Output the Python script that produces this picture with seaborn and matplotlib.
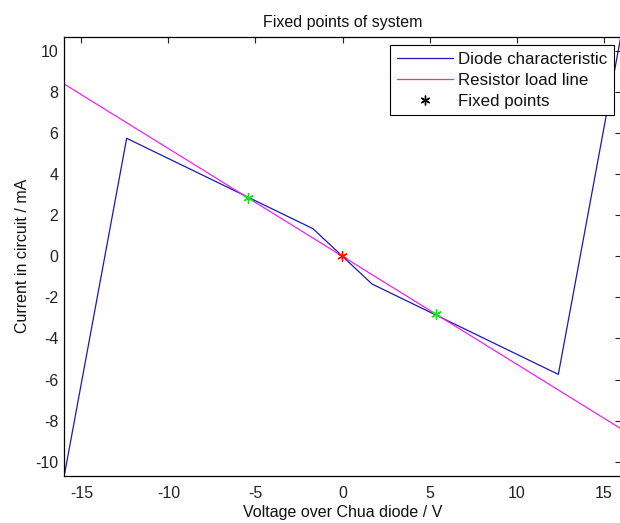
import matplotlib
matplotlib.use("Agg")
import matplotlib.pyplot as plt
import seaborn as sns
import pandas as pd
from matplotlib.lines import Line2D

# Diode characteristic (piecewise linear) breakpoints
diode_v = [-16.0, -12.4, -1.7, 1.7, 12.4, 16.0]
diode_i = [-10.75, 5.75, 1.35, -1.35, -5.75, 10.75]

# Resistor load line
load_v = [-16.0, 16.0]
load_i = [8.4, -8.4]

# Fixed points
fp_v = [-5.4, 0.0, 5.4]
fp_i = [2.83, 0.0, -2.83]
fp_kind = ["outer", "origin", "outer"]

xticks = [-15, -10, -5, 0, 5, 10, 15]
yticks = [-10, -8, -6, -4, -2, 0, 2, 4, 6, 8, 10]

sns.set_style("white")
plt.rcParams['font.family'] = ['Liberation Sans', 'DejaVu Sans']
plt.rcParams['axes.unicode_minus'] = False
FS = 11.5

fig = plt.figure(figsize=(6.2, 5.23), dpi=100)
ax = fig.add_axes([64 / 620, 1 - 476 / 523, (621 - 64) / 620, (476 - 36.7) / 523])

d1 = pd.DataFrame({"v": diode_v, "i": diode_i})
d2 = pd.DataFrame({"v": load_v, "i": load_i})
d3 = pd.DataFrame({"v": fp_v, "i": fp_i, "k": fp_kind})

blue = "#1a1ab0"
mag = "#ee22ee"
sns.lineplot(data=d1, x="v", y="i", ax=ax, color=blue, lw=0.9, sort=False, estimator=None)
sns.lineplot(data=d2, x="v", y="i", ax=ax, color=mag, lw=0.9, sort=False, estimator=None)
sns.scatterplot(data=d3, x="v", y="i", hue="k", palette={"outer": "#22dd22", "origin": "#ff1111"},
                marker=(6, 2, 0), s=45, linewidth=1.0, ax=ax, legend=False, zorder=5)

ax.set_xlim(-16, 16)
ax.set_ylim(-10.7, 10.7)
ax.set_xticks(xticks)
ax.set_yticks(yticks)
ax.tick_params(direction="in", top=True, right=True, length=4.3, width=0.8, labelsize=FS,
               colors="#222222", pad=4)
ax.tick_params(axis="x", pad=7)
for s in ax.spines.values():
    s.set_linewidth(0.9)
    s.set_color("black")

ax.set_title("Fixed points of system", fontsize=FS, pad=7, color="#111111")
ax.set_xlabel("Voltage over Chua diode / V", fontsize=FS, labelpad=3, color="#111111")
ax.set_ylabel("Current in circuit / mA", fontsize=FS, labelpad=4, color="#111111")

handles = [
    Line2D([], [], color=blue, lw=0.9),
    Line2D([], [], color=mag, lw=0.9),
    Line2D([], [], color="black", lw=0, marker=(6, 2, 0), markersize=7, markeredgewidth=1.0),
]
leg = ax.legend(handles, ["Diode characteristic", "Resistor load line", "Fixed points"],
                loc="upper right", bbox_to_anchor=(0.987, 0.981), fancybox=False, framealpha=1,
                edgecolor="black", fontsize=12.2, handlelength=3.3, handletextpad=0.3,
                borderpad=0.4, labelspacing=0.35, borderaxespad=0)
leg.get_frame().set_linewidth(0.8)
for t in leg.get_texts():
    t.set_color("#111111")

fig.savefig("out.png", dpi=100)
